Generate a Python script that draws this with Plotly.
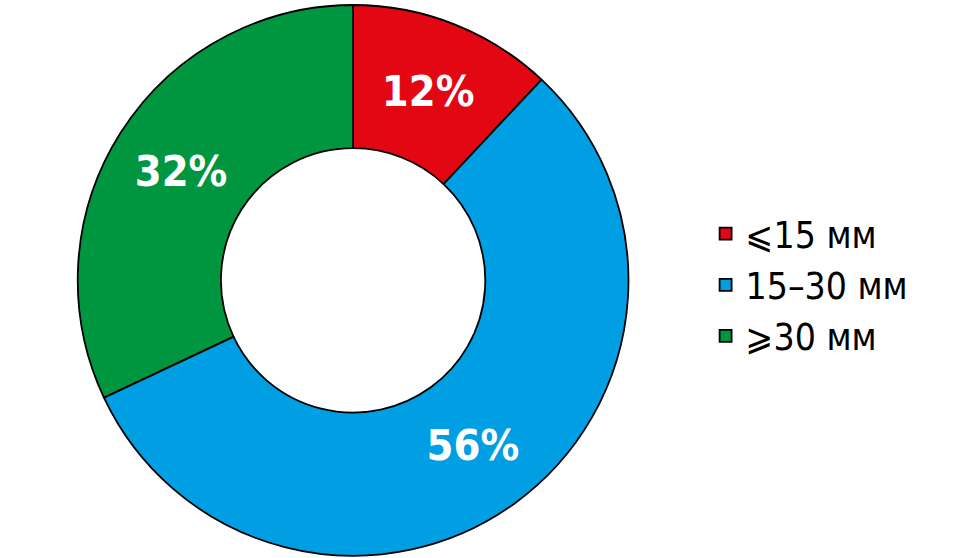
import plotly.graph_objects as go

labels = ["⩽15 мм", "15–30 мм", "⩾30 мм"]
values = [12, 56, 32]
colors = ["#E30613", "#009FE3", "#009640"]

fig = go.Figure(go.Pie(
    labels=labels,
    values=values,
    hole=0.48,
    sort=False,
    direction="clockwise",
    rotation=0,
    marker=dict(colors=colors, line=dict(color="#000000", width=1.8)),
    texttemplate="%{percent:.0%}",
    textposition="inside",
    insidetextorientation="horizontal",
    textfont=dict(family="DejaVu Sans Condensed, Roboto, Arial", size=43, color="white", weight="bold"),
    domain=dict(x=[0.0776, 0.643], y=[0.004, 0.991]),
    hoverinfo="skip",
))

fig.update_layout(
    width=980, height=558,
    margin=dict(l=0, r=0, t=0, b=0),
    paper_bgcolor="white",
    plot_bgcolor="white",
    showlegend=True,
    legend=dict(
        x=0.72, y=0.489, xanchor="left", yanchor="middle",
        font=dict(family="DejaVu Sans Condensed, Roboto, Arial", size=37, color="#000000"),
        itemwidth=30,
    ),
)

fig.write_html("out.html", config={"displayModeBar": False},
               post_script="document.body.style.margin='0';")
